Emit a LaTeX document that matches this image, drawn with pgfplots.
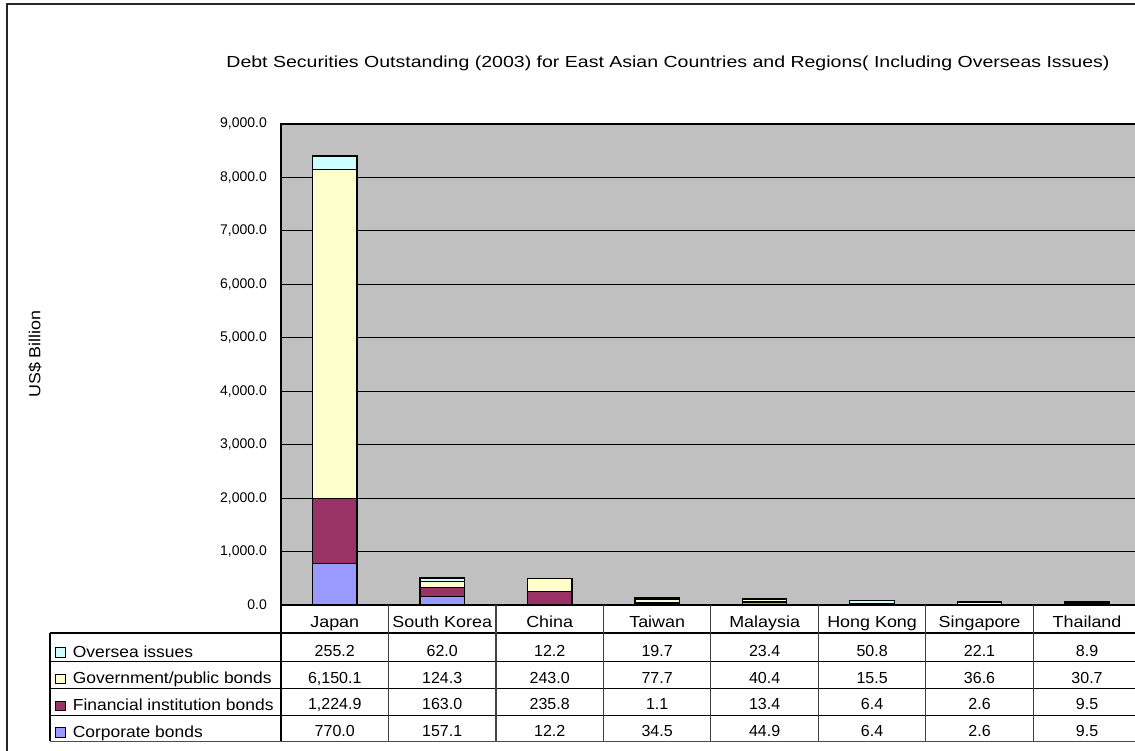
\documentclass[border=0pt]{standalone}
\usepackage{fontspec}
\setmainfont{Liberation Sans}
\newfontfamily\wfont[FakeStretch=1.12]{Liberation Sans}
\newfontfamily\lfont[FakeStretch=1.09]{Liberation Sans}
\newfontfamily\titlefont[FakeStretch=1.22]{Liberation Sans}
\usepackage{pgfplots}
\usepackage{pgfplotstable}
\pgfplotsset{compat=1.18}
\pgfkeys{/pgf/number format/assume math mode=true}
\definecolor{corp}{HTML}{9999FF}
\definecolor{fin}{HTML}{993366}
\definecolor{gov}{HTML}{FFFFCC}
\definecolor{ovr}{HTML}{CCFFFF}
\definecolor{plotbg}{HTML}{C0C0C0}
\pgfplotstableread{
x corp fin gov ovr
0 770.0 1224.9 6150.1 255.2
1 157.1 163.0 124.3 62.0
2 12.2 235.8 243.0 12.2
3 34.5 1.1 77.7 19.7
4 44.9 13.4 40.4 23.4
5 6.4 6.4 15.5 50.8
6 2.6 2.6 36.6 22.1
7 9.5 9.5 30.7 8.9
}\datatable
\newcommand{\tfont}{\fontsize{16}{16}\selectfont}
\begin{document}
\begin{tikzpicture}[x=1pt,y=1pt]
\fill[white] (0,0) rectangle (1135,751);
\begin{scope}
\clip (0,0) rectangle (1135,751);
\draw[line width=2pt, black!85] (6.5,-10) -- (6.5,746.5) -- (1145,746.5);
\node[font={\titlefont\fontsize{16}{16}\selectfont}, anchor=base] at (668,683) {Debt Securities Outstanding (2003) for East Asian Countries and Regions( Including Overseas Issues)};
\begin{scope}[shift={(334.74,146)}]
\begin{axis}[
  at={(0,0)}, anchor=origin,
  scale only axis, width=859.8pt, height=481pt,
  ybar stacked, bar width=44.5pt,
  xmin=-0.5, xmax=7.5, ymin=0, ymax=9000,
  xtick={0,...,7},
  xticklabels={Japan,South Korea,China,Taiwan,Malaysia,Hong Kong,Singapore,Thailand},
  xticklabel style={font={\wfont\fontsize{16}{16}\selectfont}, anchor=base, inner sep=0pt, yshift=-23pt},
  ytick={0,1000,...,9000},
  yticklabel={\pgfmathprintnumber[fixed,fixed zerofill,precision=1,1000 sep={,}]{\tick}},
  yticklabel style={font=\fontsize{14}{14}\selectfont, anchor=east, inner sep=0pt, xshift=-14pt},
  ymajorgrids, major grid style={black, line width=0.9pt},
  axis background/.style={fill=plotbg},
  axis line style={black, line width=1.3pt},
  tick style={draw=none},
  clip=false,
  ylabel={US\$ Billion},
  ylabel style={font={\wfont\fontsize{16}{16}\selectfont}, at={(axis description cs:-0.2861,0.5218)}, anchor=center},
  every axis plot/.append style={draw=black, line width=1.2pt},
  reverse legend,
  legend style={at={(axis description cs:-0.2628,-0.0832)}, anchor=north west,
    draw=none, fill=none, inner sep=0pt, font={\lfont\fontsize{16}{16}\selectfont},
    nodes={inner sep=0pt, text height=12pt, text depth=3pt, anchor=base west},
    row sep=11.7pt, column sep=0pt},
  legend cell align=left,
  legend image code/.code={\draw[#1, line width=1pt] (0pt,0pt) rectangle (10pt,9.5pt);\path (16.5pt,0pt);},
]
\addplot[fill=corp] table[x=x,y=corp]{\datatable};
\addplot[fill=fin] table[x=x,y=fin]{\datatable};
\addplot[fill=gov] table[x=x,y=gov]{\datatable};
\addplot[fill=ovr] table[x=x,y=ovr]{\datatable};
\legend{Corporate bonds,Financial institution bonds,Government/public bonds,Oversea issues}
\end{axis}
\end{scope}
% data table grid
\draw[black, line width=1.2pt] (50,118) -- (1140,118);
\foreach \yy in {89.7,62.7,35.5} \draw[black, line width=1.2pt] (50,\yy) -- (1140,\yy);
\draw[black!70, line width=1.2pt] (50,9.5) -- (1140,9.5);
\draw[black, line width=1.2pt] (50,118) -- (50,9.5);
\draw[black, line width=1.3pt] (281,146) -- (281,9.5);
\foreach \k in {1,...,7} \draw[black!75, line width=1.2pt] ({281+107.47*\k},146) -- ({281+107.47*\k},9.5);
\foreach \c/\yy in {ovr/94,gov/67.5,fin/41,corp/14} {
  \foreach \i in {0,...,7} {
    \pgfplotstablegetelem{\i}{\c}\of\datatable
    \node[font=\tfont, anchor=base, inner sep=0pt] at ({281+107.47*(\i+0.5)},\yy) {\pgfmathprintnumber[fixed,fixed zerofill,precision=1,1000 sep={,}]{\pgfplotsretval}};
  }
}
\end{scope}
\pgfresetboundingbox
\path[use as bounding box] (0,0) rectangle (1135,751);
\end{tikzpicture}
\end{document}
